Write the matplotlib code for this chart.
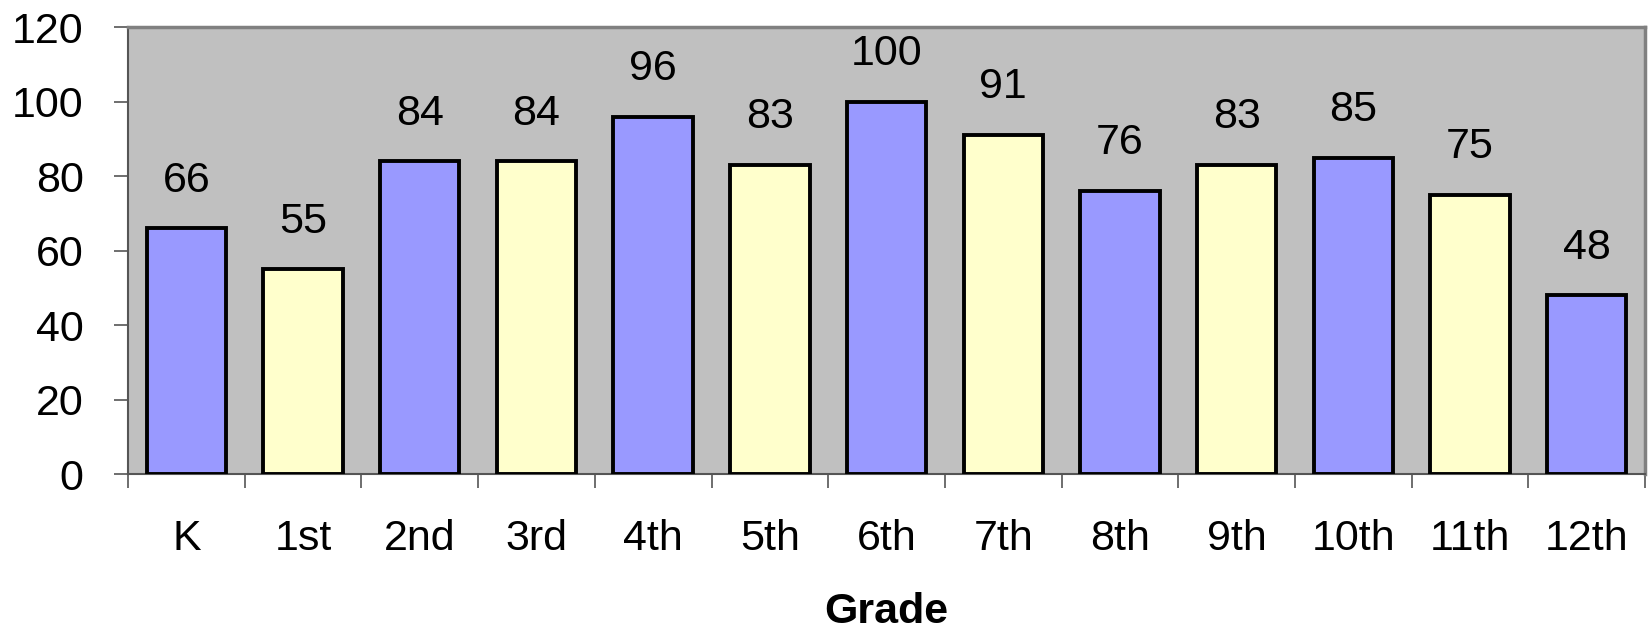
import numpy as np
import matplotlib
matplotlib.use("Agg")
import matplotlib.pyplot as plt

plt.rcParams['font.family'] = ['Liberation Sans', 'DejaVu Sans']

grades = ['K', '1st', '2nd', '3rd', '4th', '5th', '6th', '7th', '8th', '9th', '10th', '11th', '12th']
counts = [66, 55, 84, 84, 96, 83, 100, 91, 76, 83, 85, 75, 48]
bar_colors = ['#9999FF', '#FFFFCC'] * 6 + ['#9999FF']

fig = plt.figure(figsize=(16.48, 6.33), dpi=100)
ax = fig.add_axes([0.0777, 0.251, 0.9205, 0.706])
ax.set_facecolor('#C0C0C0')

x = np.arange(len(grades))
bars = ax.bar(x, counts, width=0.68, color=bar_colors, edgecolor='black', linewidth=2.8, zorder=3)
for xi, v in zip(x, counts):
    ax.annotate(str(v), (xi, v), xytext=(0, 20), textcoords='offset points',
                ha='center', va='bottom', fontsize=31)

ax.set_xlim(-0.5, len(grades) - 0.5)
ax.set_ylim(0, 120)
ax.set_yticks(np.arange(0, 121, 20))
ax.tick_params(axis='y', labelsize=31, length=10, width=1.2, color='#555555', pad=22)
ax.set_xticks(x)
ax.set_xticklabels(grades, fontsize=31)
ax.tick_params(axis='x', length=0, pad=32)
ax.set_xticks(np.arange(-0.5, len(grades)), minor=True)
ax.tick_params(axis='x', which='minor', length=10, width=1.2, color='#555555')

for s in ['top', 'right']:
    ax.spines[s].set_color('#808080')
    ax.spines[s].set_linewidth(2.5)
for s in ['left', 'bottom']:
    ax.spines[s].set_color('#555555')
    ax.spines[s].set_linewidth(1.5)

ax.set_xlabel('Grade', fontsize=31, fontweight='bold', labelpad=24)

fig.savefig('out.png', dpi=100)
